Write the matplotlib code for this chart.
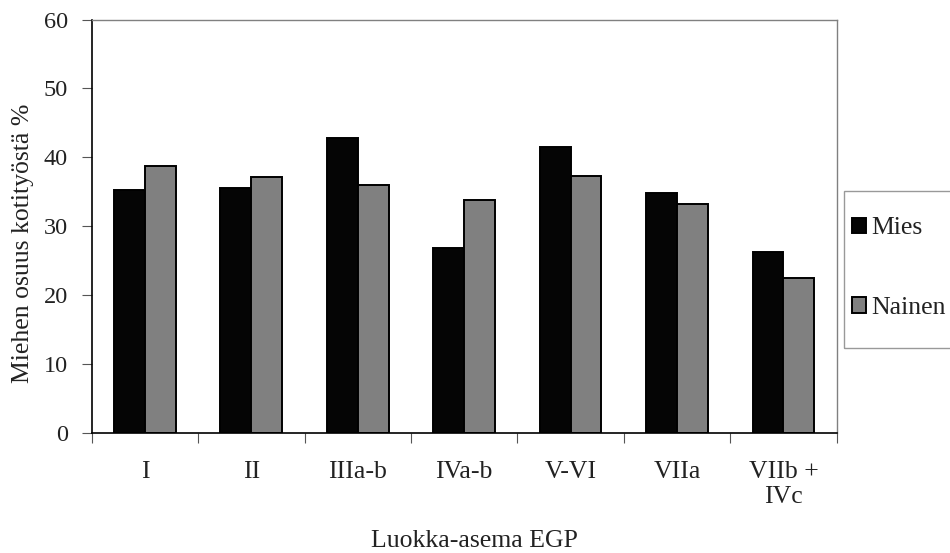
import numpy as np
import matplotlib
matplotlib.use("Agg")
import matplotlib.pyplot as plt
from matplotlib.patches import Rectangle
from matplotlib.ticker import FixedLocator, NullFormatter

categories = ["I", "II", "IIIa-b", "IVa-b", "V-VI", "VIIa", "VIIb +\nIVc"]
mies = [35.3, 35.5, 42.8, 26.8, 41.5, 34.9, 26.3]
nainen = [38.7, 37.2, 36.0, 33.8, 37.3, 33.3, 22.5]

plt.rcParams["font.family"] = ["Liberation Serif", "DejaVu Serif"]
text_color = "#222222"
fs_num = 17.5
fs = 18.5

fig = plt.figure(figsize=(9.5, 5.53), dpi=100)
ax = fig.add_axes([0.0965, 0.2165, 0.7842, 0.7482])

x = np.arange(len(categories))
w = 0.29
ax.bar(x - w, mies, width=w, align="edge", color="#050505", edgecolor="black",
       linewidth=1.4, label="Mies")
ax.bar(x, nainen, width=w, align="edge", color="#808080", edgecolor="black",
       linewidth=1.4, label="Nainen")

ax.set_xlim(-0.5, len(categories) - 0.5)
ax.set_ylim(0, 60)
ax.set_yticks(range(0, 61, 10))
ax.set_xticks(x)
ax.set_xticklabels(categories, fontsize=fs, color=text_color, linespacing=1.2)
ax.xaxis.set_minor_locator(FixedLocator(np.arange(-0.5, len(categories), 1.0)))
ax.xaxis.set_minor_formatter(NullFormatter())
ax.tick_params(axis="x", which="major", length=0, pad=20)
ax.tick_params(axis="x", which="minor", length=7, width=0.8, color="#555555", direction="out")
ax.tick_params(axis="y", length=7, width=0.8, color="#555555", pad=10,
               labelsize=fs_num, labelcolor=text_color)

for side in ["top", "right"]:
    ax.spines[side].set_color("#808080")
    ax.spines[side].set_linewidth(1.0)
ax.spines["left"].set_linewidth(1.2)
ax.spines["bottom"].set_linewidth(1.2)

ax.set_ylabel("Miehen osuus kotityöstä %", fontsize=fs, color=text_color)
ax.yaxis.set_label_coords(-0.077, 0.46)
ax.set_xlabel("Luokka-asema EGP", fontsize=fs, color=text_color)
ax.xaxis.set_label_coords(0.514, -0.234)

# legend frame runs off the right edge like in the source
fig.patches.append(Rectangle((0.8884, 0.3707), 0.2, 0.2839, transform=fig.transFigure,
                             fill=False, edgecolor="#999999", linewidth=1.0))
leg = ax.legend(loc="center left", bbox_to_anchor=(1.0205, 0.3985), frameon=False,
                fontsize=fs, handlelength=0.55, handleheight=0.55, handletextpad=0.22,
                labelspacing=2.25, borderpad=0, borderaxespad=0)
for t in leg.get_texts():
    t.set_color(text_color)

fig.savefig("out.png", dpi=100)
